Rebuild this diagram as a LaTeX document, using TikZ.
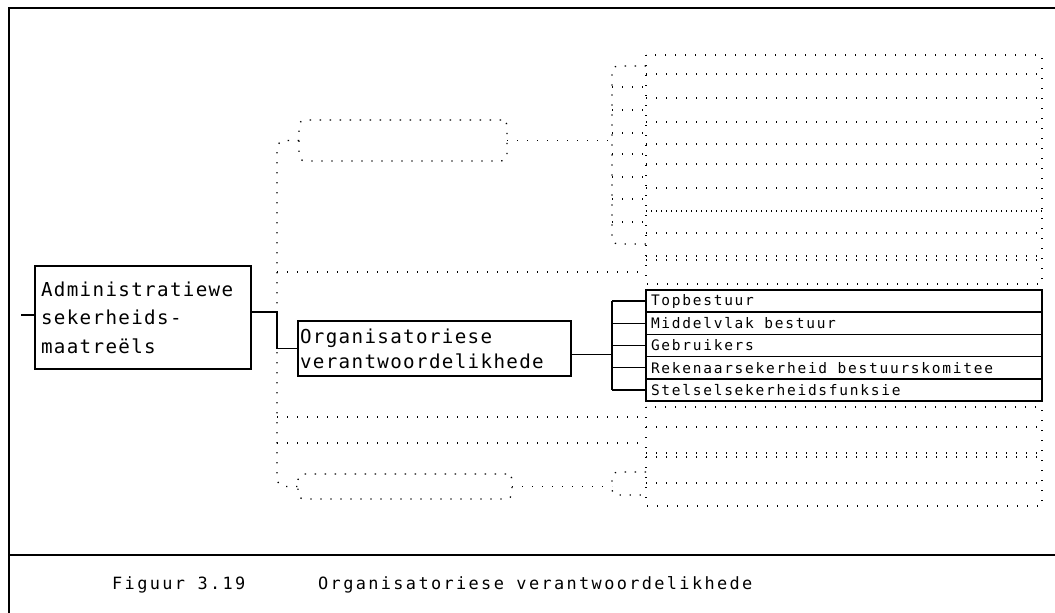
\documentclass[tikz,border=0pt]{standalone}
\usepackage{fontspec}
\usepackage{tikz}
\usetikzlibrary{positioning}
\newfontfamily\admfont[LetterSpace=7]{DejaVu Sans Mono}
\newfontfamily\rowfont[LetterSpace=12]{DejaVu Sans Mono}
\newfontfamily\capfont[LetterSpace=14]{DejaVu Sans Mono}
\newcommand\admtext{\admfont\fontsize{19.2}{28.5}\selectfont}
\newcommand\orgtext{\admfont\fontsize{19.2}{25}\selectfont}
\newcommand\rowtext{\rowfont\fontsize{14.5}{16}\selectfont}
\newcommand\captext{\capfont\fontsize{16.9}{20}\selectfont}

\begin{document}
\begin{tikzpicture}[x=1pt, y=-1pt,
        frame/.style={line width=1.8pt},
        adminbox/.style={draw, line width=1.6pt, rectangle, anchor=north west, align=flush left, inner ysep=0pt, outer sep=0pt},
        rowbox/.style={draw, line width=1.5pt, rectangle, outer sep=0pt, minimum height=22.2pt, text width=386pt, inner xsep=5pt, inner ysep=0pt, align=flush left, font=\rowtext},
        link/.style={line width=1.5pt},
        ghost/.style={line width=1.3pt, dash pattern=on 1.3pt off 8.7pt},
        ghostdense/.style={line width=1.3pt, dash pattern=on 1.3pt off 3.7pt},
        ghostbox/.style={draw, ghost, rounded corners=6pt, rectangle, anchor=north west, inner sep=0pt, outer sep=0pt}
    ]
    \useasboundingbox (0,0) rectangle (1055,613);

    % Frame
    \draw[frame] (1055,8) -- (9,8) -- (9,613);
    \draw[frame] (9,555) -- (1055,555);

    % Nodes
    \node[adminbox, minimum width=216pt, minimum height=103pt, text width=204pt, inner xsep=6pt, font=\admtext] (admin) at (35,266) {Administratiewe\\sekerheids-\\maatreëls};
    \node[adminbox, minimum width=273pt, minimum height=55pt, text width=269pt, inner xsep=2pt, font=\orgtext] (org) at (298,321) {Organisatoriese\\verantwoordelikhede};

    \node[rowbox, anchor=north west] (topb) at (646,290) {Topbestuur};
    \node[rowbox, below=0pt of topb] (middel) {Middelvlak bestuur};
    \node[rowbox, below=0pt of middel] (gebr) {Gebruikers};
    \node[rowbox, below=0pt of gebr] (reken) {Rekenaarsekerheid bestuurskomitee};
    \node[rowbox, below=0pt of reken] (stel) {Stelselsekerheidsfunksie};

    % Ghost boxes
    \node[ghostbox, minimum width=208pt, minimum height=41pt] (gtop) at (299,120) {};
    \node[ghostbox, minimum width=214pt, minimum height=25pt] (gbot) at (298,474) {};
    \coordinate (busL) at (277,330);
    \coordinate (busR) at (612,330);

    % Ghost connectors
    \draw[ghost, rounded corners=8pt] (gtop.west) -| (busL) |- (gbot.west);
    \draw[ghost] (gtop.east) -- (gtop.east -| busR);
    \draw[ghost] (gbot.east) -- (gbot.east -| busR);
    \foreach \y in {272,417,443}
        \draw[ghost] (277,\y) -- (646,\y);
    \draw[ghost, rounded corners=5pt] (646,66) -| (612,244) -- (646,244);
    \foreach \y in {87,110,133,154,177,199,222}
        \draw[ghost] (612,\y) -- (646,\y);
    \draw[ghost, rounded corners=5pt] (646,472) -| (612,495) -- (646,495);

    % Ghost rows
    \draw[ghost] (646,55) rectangle (1042,284);
    \foreach \y in {74,98,122,144,164,188,233,256,260}
        \draw[ghost] (646,\y) -- (1042,\y);
    \draw[ghostdense] (646,211) -- (1042,211);
    \draw[ghost] (646,407) rectangle (1042,506);
    \foreach \y in {427,453,457,483}
        \draw[ghost] (646,\y) -- (1042,\y);

    % Links
    \coordinate (entry) at (21,315);
    \draw[link] (entry) -- (entry -| admin.west);
    \draw[link] ([yshift=5.5pt]admin.east) -| (busL) |- (org.west);
    \draw[link] ([yshift=-6pt]org.east) -- ([yshift=-6pt]org.east -| busR);
    \draw[link] (busR |- topb.west) -- (busR |- stel.west);
    \foreach \n in {topb,middel,gebr,reken,stel}
        \draw[link] (busR |- \n.west) -- (\n.west);

    % Caption
    \node[anchor=west, inner sep=0pt, font=\captext] (fignum) at (112,585) {Figuur 3.19};
    \node[anchor=west, inner sep=0pt, font=\captext] (figtitle) at (318,585) {Organisatoriese verantwoordelikhede};

\end{tikzpicture}
\end{document}
